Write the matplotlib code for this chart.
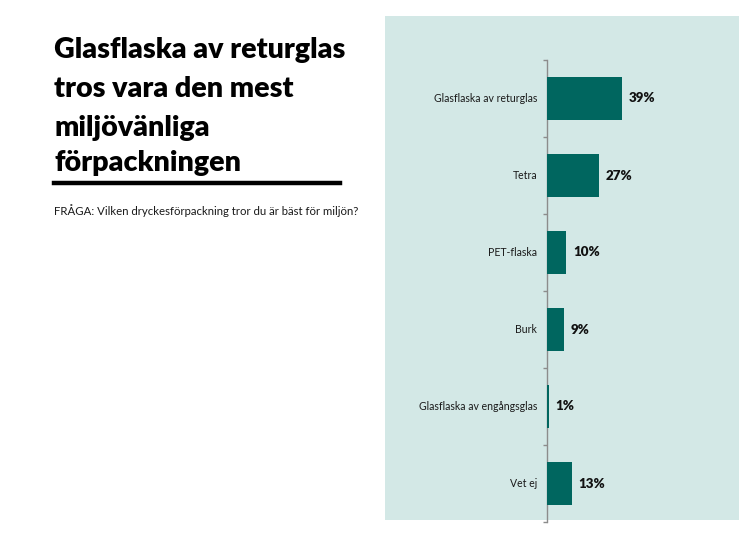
import matplotlib
matplotlib.use("Agg")
import matplotlib.pyplot as plt
from matplotlib.lines import Line2D

categories = ["Glasflaska av returglas", "Tetra", "PET-flaska", "Burk",
              "Glasflaska av engångsglas", "Vet ej"]
values = [39, 27, 10, 9, 1, 13]
value_labels = ["39%", "27%", "10%", "9%", "1%", "13%"]

title_lines = ["Glasflaska av returglas", "tros vara den mest", "miljövänliga", "förpackningen"]
subtitle = "FRÅGA: Vilken dryckesförpackning tror du är bäst för miljön?"

plt.rcParams['font.family'] = ['Lato', 'DejaVu Sans']

W, H = 746, 536
fig = plt.figure(figsize=(W/100, H/100), dpi=100)
fig.patch.set_facecolor("white")

def fx(px): return px / W
def fy(py): return 1 - py / H

panel_color = "#D3E8E6"
bar_color = "#00665F"

bg = fig.add_axes([fx(385), fy(520), fx(739) - fx(385), fy(16) - fy(520)], zorder=-1)
bg.set_facecolor(panel_color)
bg.set_xticks([]); bg.set_yticks([])
for s in bg.spines.values():
    s.set_visible(False)

ax = fig.add_axes([fx(547), fy(522), fx(739) - fx(547), fy(60) - fy(522)], zorder=1)
ax.set_facecolor("none")
n = len(categories)
ypos = list(range(n))
ax.barh(ypos, values, height=0.57, color=bar_color, zorder=3)
ax.set_ylim(n - 0.5, -0.5)
ax.set_xlim(0, 100)
for s in ["top", "right", "bottom"]:
    ax.spines[s].set_visible(False)
ax.spines["left"].set_color("#8C8C8C")
ax.spines["left"].set_linewidth(1.0)
ax.set_xticks([])
ax.set_yticks([i - 0.5 for i in range(n + 1)], minor=False)
ax.set_yticklabels([])
ax.tick_params(axis="y", length=3, color="#8C8C8C", width=1.0)
for i, (c, v, lab) in enumerate(zip(categories, values, value_labels)):
    ax.text(-5.2, i, c, ha="right", va="center", fontsize=7.6, color="#1a1a1a")
    ax.text(v + 3.5, i, lab, ha="left", va="center", fontsize=9.6,
            fontweight="heavy", color="#111111")

# Title
line_y = [50, 89, 128, 163]
for t, yy in zip(title_lines, line_y):
    fig.text(fx(54), fy(yy), t, ha="left", va="center", fontsize=20.6,
             fontweight="heavy", color="black")

fig.lines.append(Line2D([fx(54), fx(340)], [fy(183), fy(183)], transform=fig.transFigure,
                        color="black", linewidth=3.2))

fig.text(fx(54), fy(211), subtitle, ha="left", va="center", fontsize=8.2, color="#1a1a1a")

fig.savefig("out.png", dpi=100, facecolor="white")
